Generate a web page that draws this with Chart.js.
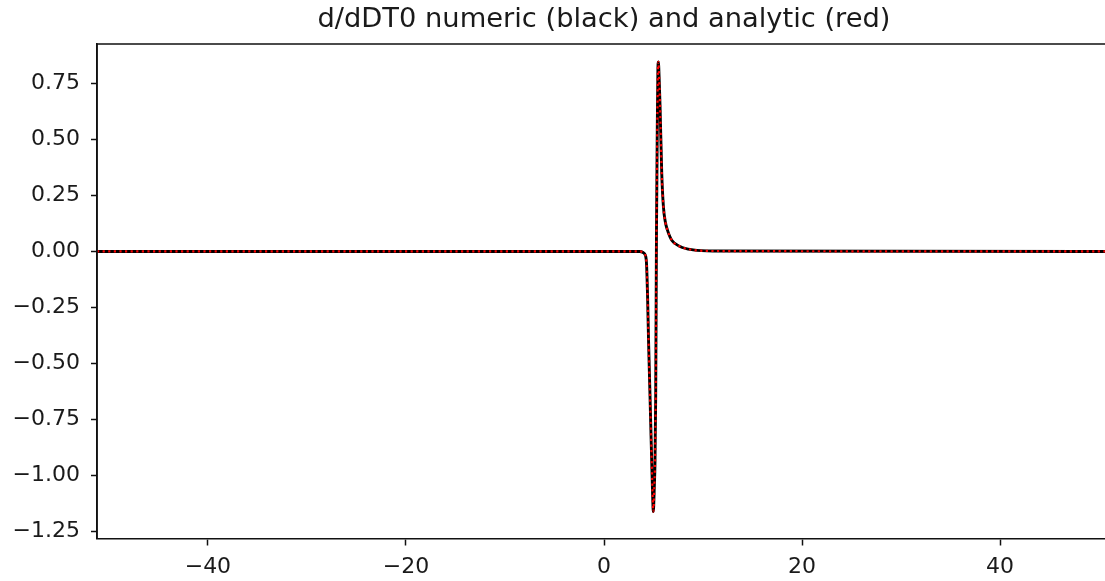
<!DOCTYPE html>
<html>
<head>
<meta charset="utf-8">
<script src="https://cdn.jsdelivr.net/npm/chart.js@4"></script>
<style>
  html, body { margin: 0; padding: 0; background: #fff; overflow: hidden; }
  canvas { display: block; }
</style>
</head>
<body>
<canvas id="dT0-chart" width="1120" height="581"></canvas>
<script>
// time axis samples (x) and derivative values wrt DT0
const tValues = [-51.2, 3.6, 3.95, 4.2, 4.3, 4.4, 4.5, 4.65, 4.82, 4.92, 4.98, 5.08, 5.15, 5.22, 5.3, 5.38, 5.44, 5.49, 5.58, 5.66, 5.83, 6.0, 6.2, 6.4, 6.84, 7.68, 9.0, 11, 51.2];
const numericVals = [0, 0, -0.005, -0.02, -0.06, -0.2, -0.4, -0.65, -0.94, -1.1, -1.16, -1.05, -0.94, -0.65, 0.09, 0.55, 0.8, 0.845, 0.76, 0.65, 0.35, 0.2, 0.13, 0.096, 0.05, 0.022, 0.007, 0.002, 0];
const analyticVals = [0, 0, -0.005, -0.02, -0.06, -0.2, -0.4, -0.65, -0.94, -1.1, -1.16, -1.05, -0.94, -0.65, 0.09, 0.55, 0.8, 0.845, 0.76, 0.65, 0.35, 0.2, 0.13, 0.096, 0.05, 0.022, 0.007, 0.002, 0];

const xTicks = [-40, -20, 0, 20, 40];
const yTicks = [-1.25, -1.0, -0.75, -0.5, -0.25, 0, 0.25, 0.5, 0.75];
const chartTitle = 'd/dDT0 numeric (black) and analytic (red)';

const FONT = "'DejaVu Sans', sans-serif";
const TEXT = '#1a1a1a';

const toPoints = (ys) => tValues.map((t, i) => ({ x: t, y: ys[i] }));
const minus = (s) => s.replace('-', '\u2212');

// matplotlib-style box around the axes, title centred over the plot area
const framePlugin = {
  id: 'frame',
  afterDraw(chart) {
    const { ctx, chartArea: a } = chart;
    ctx.save();
    ctx.strokeStyle = '#111';
    ctx.lineWidth = 1.6;
    ctx.beginPath();
    ctx.moveTo(a.left, a.bottom);
    ctx.lineTo(a.left, a.top);
    ctx.lineTo(a.right, a.top);
    ctx.lineTo(a.right, a.bottom);
    ctx.stroke();

    ctx.fillStyle = TEXT;
    ctx.font = `27.3px ${FONT}`;
    ctx.textAlign = 'center';
    ctx.textBaseline = 'alphabetic';
    ctx.fillText(chartTitle, (a.left + a.right) / 2, 27);
    ctx.restore();
  }
};

const ctx = document.getElementById('dT0-chart').getContext('2d');
new Chart(ctx, {
  type: 'line',
  data: {
    datasets: [
      {
        label: 'analytic',
        data: toPoints(analyticVals),
        borderColor: '#ff0000',
        borderWidth: 2.2,
        borderDash: [2.2, 3.4],
        pointRadius: 0,
        cubicInterpolationMode: 'monotone',
        fill: false
      },
      {
        label: 'numeric',
        data: toPoints(numericVals),
        borderColor: '#000000',
        borderWidth: 2.9,
        pointRadius: 0,
        cubicInterpolationMode: 'monotone',
        fill: false
      }
    ]
  },
  options: {
    responsive: false,
    animation: false,
    layout: { padding: { left: 0, right: 9, top: 44, bottom: 0 } },
    plugins: {
      legend: { display: false },
      tooltip: { enabled: false },
      title: { display: false }
    },
    scales: {
      x: {
        type: 'linear',
        min: -51.2,
        max: 51.2,
        afterBuildTicks: (scale) => { scale.ticks = xTicks.map(v => ({ value: v })); },
        afterFit: (scale) => { scale.height = 42.5; },
        grid: { drawOnChartArea: false, drawTicks: true, tickLength: 7, tickWidth: 1.5, tickColor: '#111' },
        border: { display: true, color: '#111', width: 1.6 },
        ticks: {
          color: TEXT,
          padding: 9,
          maxRotation: 0,
          font: { family: FONT, size: 22 },
          callback: (v) => minus(String(v))
        }
      },
      y: {
        type: 'linear',
        min: -1.28,
        max: 0.925,
        afterBuildTicks: (scale) => { scale.ticks = yTicks.map(v => ({ value: v })); },
        afterFit: (scale) => { scale.width = 97; },
        grid: { drawOnChartArea: false, drawTicks: true, tickLength: 6, tickWidth: 1.5, tickColor: '#111' },
        border: { display: true, color: '#111', width: 1.6 },
        ticks: {
          color: TEXT,
          padding: 11,
          font: { family: FONT, size: 22 },
          callback: (v) => minus(v.toFixed(2))
        }
      }
    }
  },
  plugins: [framePlugin]
});
</script>
</body>
</html>
